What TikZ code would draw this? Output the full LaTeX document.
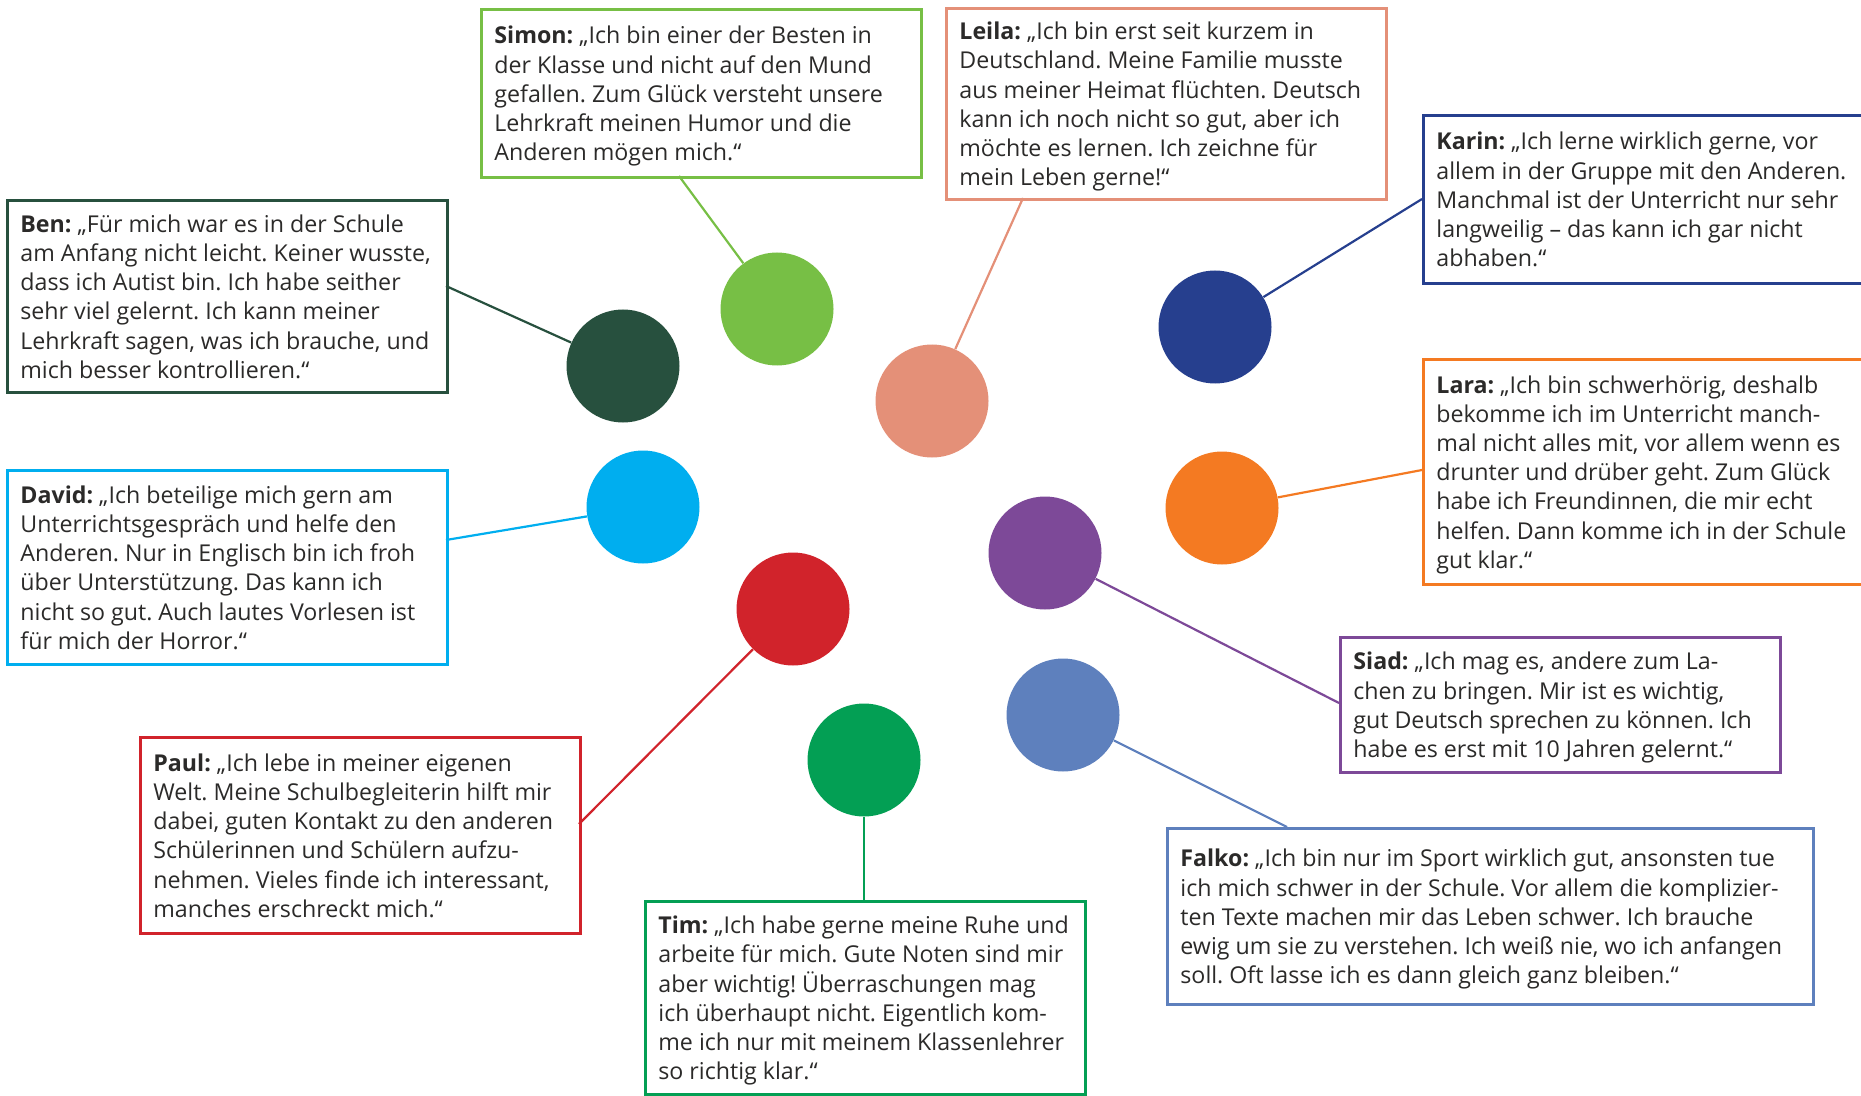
\documentclass[tikz,border=0pt]{standalone}
\usepackage{fontspec}
\setmainfont{Open Sans}
\usepackage{xcolor}
\usepackage{tikz}
\usetikzlibrary{positioning}
\definecolor{simoncol}{HTML}{77BF45}
\definecolor{bencol}{HTML}{27503E}
\definecolor{leilacol}{HTML}{E49078}
\definecolor{karincol}{HTML}{263F8E}
\definecolor{laracol}{HTML}{F47A22}
\definecolor{davidcol}{HTML}{00AEEF}
\definecolor{siadcol}{HTML}{7D4998}
\definecolor{paulcol}{HTML}{D1232B}
\definecolor{falkocol}{HTML}{5E80BD}
\definecolor{timcol}{HTML}{039F54}
\definecolor{quotegray}{HTML}{2B2A29}
\newcommand{\quotetext}[2][207pt]{\makebox[#1][l]{\begin{tabular}{@{}l@{}}\rule{0pt}{13.2pt}#2\end{tabular}}}
\tikzset{kid node/.style={circle,fill=#1,minimum size=56.5pt,inner sep=0pt},}
\tikzset{quote node/.style={draw=#1,line width=1.4pt,fill=white,anchor=north west,
  inner xsep=6.5pt,inner ysep=0pt,text=quotegray,
  font=\fontsize{11.6pt}{14.6pt}\selectfont\frenchspacing},}
\tikzset{pin line/.style={draw=#1,line width=1.1pt},}

\begin{document}
\begin{tikzpicture}[x=0.5pt,y=-0.5pt]
       \useasboundingbox (0,0) rectangle (1861,1096);

       \node[kid node=simoncol] (simondot) at (777,309) {};
       \node[kid node=bencol]   (bendot)   at (623,366) {};
       \node[kid node=leilacol] (leiladot) at (932,401) {};
       \node[kid node=karincol] (karindot) at (1215,327) {};
       \node[kid node=laracol]  (laradot)  at (1222,508) {};
       \node[kid node=davidcol] (daviddot) at (643,507) {};
       \node[kid node=siadcol]  (siaddot)  at (1045,553) {};
       \node[kid node=paulcol]  (pauldot)  at (793,609) {};
       \node[kid node=falkocol] (falkodot) at (1063,715) {};
       \node[kid node=timcol]   (timdot)   at (864,760) {};

       \node[quote node=simoncol,minimum height=84pt] (simon) at (480,8)
         {\quotetext{\textbf{Simon:} „Ich bin einer der Besten in\\
          der Klasse und nicht auf den Mund\\
          gefallen. Zum Glück versteht unsere\\
          Lehrkraft meinen Humor und die\\
          Anderen mögen mich.“}};
       \node[quote node=leilacol,minimum height=95.5pt] (leila) at (945,7)
         {\quotetext{\textbf{Leila:} „Ich bin erst seit kurzem in\\
          Deutschland. Meine Familie musste\\
          aus meiner Heimat flüchten. Deutsch\\
          kann ich noch nicht so gut, aber ich\\
          möchte es lernen. Ich zeichne für\\
          mein Leben gerne!“}};
       \node[quote node=karincol,minimum height=84pt] (karin) at (1422,114)
         {\quotetext{\textbf{Karin:} „Ich lerne wirklich gerne, vor\\
          allem in der Gruppe mit den Anderen.\\
          Manchmal ist der Unterricht nur sehr\\
          langweilig – das kann ich gar nicht\\
          abhaben.“}};
       \node[quote node=bencol,minimum height=96pt] (ben) at (6,199)
         {\quotetext{\textbf{Ben:} „Für mich war es in der Schule\\
          am Anfang nicht leicht. Keiner wusste,\\
          dass ich Autist bin. Ich habe seither\\
          sehr viel gelernt. Ich kann meiner\\
          Lehrkraft sagen, was ich brauche, und\\
          mich besser kontrollieren.“}};
       \node[quote node=laracol,minimum height=112.5pt] (lara) at (1422,358)
         {\quotetext{\textbf{Lara:} „Ich bin schwerhörig, deshalb\\
          bekomme ich im Unterricht manch-\\
          mal nicht alles mit, vor allem wenn es\\
          drunter und drüber geht. Zum Glück\\
          habe ich Freundinnen, die mir echt\\
          helfen. Dann komme ich in der Schule\\
          gut klar.“}};
       \node[quote node=davidcol,minimum height=97pt] (david) at (6,469)
         {\quotetext{\textbf{David:} „Ich beteilige mich gern am\\
          Unterrichtsgespräch und helfe den\\
          Anderen. Nur in Englisch bin ich froh\\
          über Unterstützung. Das kann ich\\
          nicht so gut. Auch lautes Vorlesen ist\\
          für mich der Horror.“}};
       \node[quote node=siadcol,minimum height=67.5pt] (siad) at (1339,636)
         {\quotetext{\textbf{Siad:} „Ich mag es, andere zum La-\\
          chen zu bringen. Mir ist es wichtig,\\
          gut Deutsch sprechen zu können. Ich\\
          habe es erst mit 10 Jahren gelernt.“}};
       \node[quote node=paulcol,minimum height=98pt] (paul) at (139,736)
         {\quotetext{\textbf{Paul:} „Ich lebe in meiner eigenen\\
          Welt. Meine Schulbegleiterin hilft mir\\
          dabei, guten Kontakt zu den anderen\\
          Schülerinnen und Schülern aufzu-\\
          nehmen. Vieles finde ich interessant,\\
          manches erschreckt mich.“}};
       \node[quote node=falkocol,minimum height=88pt] (falko) at (1166,827)
         {\quotetext[310pt]{\textbf{Falko:} „Ich bin nur im Sport wirklich gut, ansonsten tue\\
          ich mich schwer in der Schule. Vor allem die komplizier-\\
          ten Texte machen mir das Leben schwer. Ich brauche\\
          ewig um sie zu verstehen. Ich weiß nie, wo ich anfangen\\
          soll. Oft lasse ich es dann gleich ganz bleiben.“}};
       \node[quote node=timcol,minimum height=96.5pt] (tim) at (644,900)
         {\quotetext{\textbf{Tim:} „Ich habe gerne meine Ruhe und\\
          arbeite für mich. Gute Noten sind mir\\
          aber wichtig! Überraschungen mag\\
          ich überhaupt nicht. Eigentlich kom-\\
          me ich nur mit meinem Klassenlehrer\\
          so richtig klar.“}};

       \coordinate (simonpin) at (679,176);
       \coordinate (leilapin) at (1023,198);
       \coordinate (karinpin) at (1422,199);
       \coordinate (benpin)   at (446,286);
       \coordinate (larapin)  at (1422,470);
       \coordinate (davidpin) at (446,540);
       \coordinate (siadpin)  at (1339,703);
       \coordinate (paulpin)  at (579,824);
       \coordinate (falkopin) at (1287,827);
       \coordinate (timpin)   at (864,900);

       \draw[pin line=simoncol] (simonpin) -- (simondot);
       \draw[pin line=leilacol] (leilapin) -- (leiladot);
       \draw[pin line=karincol] (karinpin) -- (karindot);
       \draw[pin line=bencol]   (benpin)   -- (bendot);
       \draw[pin line=laracol]  (larapin)  -- (laradot);
       \draw[pin line=davidcol] (davidpin) -- (daviddot);
       \draw[pin line=siadcol]  (siadpin)  -- (siaddot);
       \draw[pin line=paulcol]  (paulpin)  -- (pauldot);
       \draw[pin line=falkocol] (falkopin) -- (falkodot);
       \draw[pin line=timcol]   (timpin)   -- (timdot);
    \end{tikzpicture}
\end{document}
